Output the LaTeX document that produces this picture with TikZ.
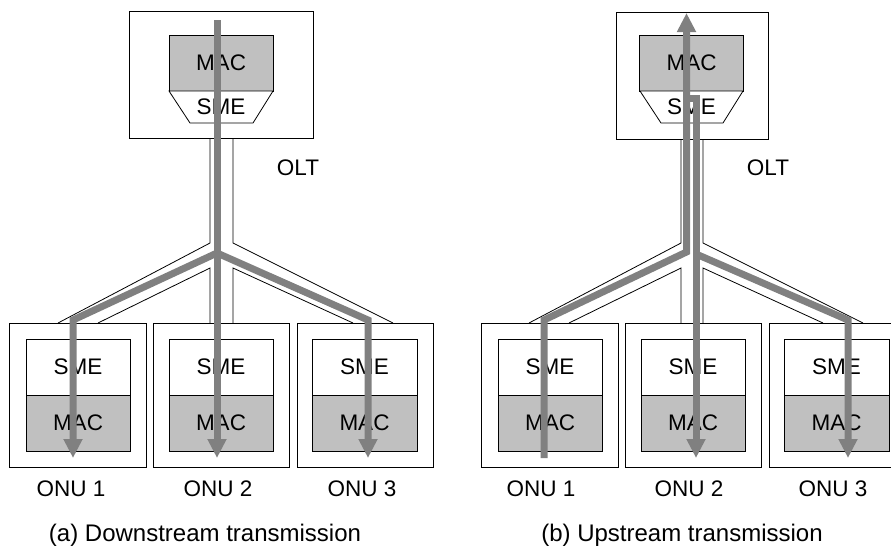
\documentclass[tikz,border=0pt]{standalone}
\usepackage{fontspec}
\setmainfont{Liberation Sans}
\usetikzlibrary{arrows.meta}
\definecolor{macgray}{RGB}{192,192,192}
\definecolor{flowgray}{RGB}{128,128,128}
\begin{document}
\begin{tikzpicture}[x=1pt,y=-1pt,
  font=\fontsize{22.5}{26}\selectfont,
  frame/.style={draw, line width=0.8pt, inner sep=0pt, fill=white},
  macbox/.style={frame, fill=macgray, minimum width=104pt, minimum height=56pt},
  smebox/.style={frame, minimum width=104pt, minimum height=56pt},
  onubox/.style={frame, minimum width=136pt, minimum height=144pt},
  fiber/.style={line width=0.8pt},
  flow/.style={draw=flowgray, line width=7pt, line join=miter},
  flowtip/.style={flow, -{Triangle[width=18pt,length=19pt]}},
  lbl/.style={inner sep=0pt},
  caption/.style={inner sep=0pt, font=\fontsize{24}{28}\selectfont}
]
\useasboundingbox (0,0) rectangle (891,550);
\clip (0,0) rectangle (891,550);

% ================= (a) Downstream =================
% fiber
\draw[fiber] (210,138) -- (210,243) -- (58,323);
\draw[fiber] (233,138) -- (233,243) -- (393,323);
\draw[fiber] (98,323) -- (210,268) -- (210,323);
\draw[fiber] (353,323) -- (233,268) -- (233,323);
% OLT
\node[frame, minimum width=184pt, minimum height=127pt] (aolt) at (221,74.5) {};
\node[macbox] (aoltmac) at (221,63) {MAC};
\filldraw[fiber, fill=white] (169,91) -- (273,91) -- (253,123) -- (190,123) -- cycle;
\node[lbl] (aoltsme) at (221,107) {SME};
\node[lbl] (aoltlbl) at (298,168) {OLT};
% ONUs
\node[onubox, minimum width=137pt] (aonu1) at (77.5,395) {};
\node[onubox] (aonu2) at (221,395) {};
\node[onubox] (aonu3) at (365,395) {};
\node[smebox] (aonu1sme) at (78,367) {SME};
\node[macbox] (aonu1mac) at (78,423) {MAC};
\node[smebox] (aonu2sme) at (221,367) {SME};
\node[macbox] (aonu2mac) at (221,423) {MAC};
\node[smebox, minimum width=105pt] (aonu3sme) at (364.5,367) {SME};
\node[macbox, minimum width=105pt] (aonu3mac) at (364.5,423) {MAC};
\node[lbl] (aonu1lbl) at (71,489) {ONU 1};
\node[lbl] (aonu2lbl) at (218,489) {ONU 2};
\node[lbl] (aonu3lbl) at (362,489) {ONU 3};
\node[caption] (acap) at (205,535) {(a) Downstream transmission};
% flows
\coordinate (asrc) at (217,20);
\coordinate (asplit) at (217,253);
\coordinate (ad1) at (73,458);
\coordinate (ad2) at (217,458);
\coordinate (ad3) at (368,458);
\draw[flowtip] (asrc) -- (ad2);
\draw[flowtip] (asplit) -- (73,320) -- (ad1);
\draw[flowtip] (asplit) -- (368,320) -- (ad3);

% ================= (b) Upstream =================
% fiber
\draw[fiber] (681,139) -- (681,243) -- (529,323);
\draw[fiber] (703,139) -- (703,243) -- (863,323);
\draw[fiber] (569,323) -- (681,268) -- (681,323);
\draw[fiber] (823,323) -- (703,268) -- (703,323);
% OLT
\node[frame, minimum width=152pt, minimum height=127pt] (bolt) at (692,75.5) {};
\node[macbox] (boltmac) at (691.5,63) {MAC};
\filldraw[fiber, fill=white] (640,91) -- (743,91) -- (723,123) -- (661,123) -- cycle;
\node[lbl] (boltsme) at (691.5,107) {SME};
\node[lbl] (boltlbl) at (768,168) {OLT};
% ONUs
\node[onubox, minimum width=137pt] (bonu1) at (549.5,395) {};
\node[onubox] (bonu2) at (693,395) {};
\node[onubox] (bonu3) at (837,395) {};
\node[smebox] (bonu1sme) at (550,367) {SME};
\node[macbox] (bonu1mac) at (550,423) {MAC};
\node[smebox] (bonu2sme) at (693,367) {SME};
\node[macbox] (bonu2mac) at (693,423) {MAC};
\node[smebox, minimum width=105pt] (bonu3sme) at (836.5,367) {SME};
\node[macbox, minimum width=105pt] (bonu3mac) at (836.5,423) {MAC};
\node[lbl] (bonu1lbl) at (541,489) {ONU 1};
\node[lbl] (bonu2lbl) at (689,489) {ONU 2};
\node[lbl] (bonu3lbl) at (833,489) {ONU 3};
\node[caption] (bcap) at (682,535) {(b) Upstream transmission};
% flows
\coordinate (bsrc) at (544,458);
\coordinate (bsink) at (686.5,13);
\coordinate (bhook) at (686.5,98);
\coordinate (bsplit) at (696,254);
\coordinate (bd2) at (696,458);
\coordinate (bd3) at (848,458);
\draw[flowtip] (bsrc) -- (544,320) -- (686.5,252) -- (bsink);
\draw[flowtip] (bhook) -- (696,98) -- (bd2);
\draw[flowtip] (bsplit) -- (848,320) -- (bd3);
\end{tikzpicture}
\end{document}
